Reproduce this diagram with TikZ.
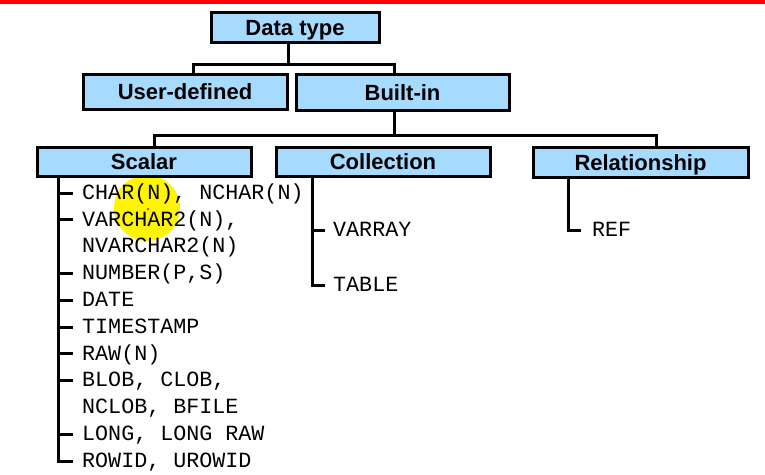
\documentclass[tikz,border=0pt]{standalone}
\usepackage{fontspec}
\setmainfont{Liberation Sans}
\setmonofont{Liberation Mono}
\definecolor{boxblue}{RGB}{166,218,255}
\definecolor{marker}{RGB}{255,245,0}

\begin{document}
\begin{tikzpicture}[x=1pt, y=-1pt,
  typebox/.style={draw=black, line width=3pt, fill=boxblue, inner sep=0pt,
    font=\fontsize{22}{24}\selectfont\bfseries, text height=16pt, text depth=0pt},
  link/.style={draw=black, line width=3pt},
  item/.style={anchor=west, inner xsep=9pt, inner ysep=0pt,
    font=\fontsize{21.7}{26}\selectfont\ttfamily, text height=12.4pt, text depth=0pt}]

\useasboundingbox (0,0) rectangle (765,474);
\fill[red] (0,0) rectangle (765,4);

% pointer highlight
\fill[marker] (147,208) circle (33);
\fill[red] (148,209) circle (1.2);

\node[typebox, minimum width=168pt, minimum height=30pt] (dtype) at (295,27) {Data type};

\node[typebox, minimum width=204pt, minimum height=35pt] (udef) at (185,91.5) {User-defined};
\node[typebox, minimum width=213pt, minimum height=36pt] (bltin) at (402.5,92) {Built-in};

\node[typebox, minimum width=214pt, minimum height=29pt] (scalar) at (144,161.5) {Scalar};
\node[typebox, minimum width=214pt, minimum height=29pt] (coll) at (383,161.5) {Collection};
\node[typebox, minimum width=215pt, minimum height=30pt] (rel) at (640.5,162) {Relationship};

\coordinate (j1) at (288,64);
\coordinate (j1l) at (193,64);
\coordinate (j1r) at (394,64);
\draw[link] (dtype.south -| j1) -- (j1);
\draw[link] (udef.north -| j1l) -- (j1l) -- (j1r) -- (bltin.north -| j1r);

\coordinate (j2l) at (154,135);
\coordinate (j2m) at (394,135);
\coordinate (j2r) at (656,135);
\draw[link] (bltin.south -| j2m) -- (j2m);
\draw[link] (scalar.north -| j2l) -- (j2l) -- (j2r) -- (rel.north -| j2r);

% scalar types
\foreach \t [count=\n] in {{CHAR(N), NCHAR(N)}, {VARCHAR2(N),}, {NVARCHAR2(N)},
    {NUMBER(P,S)}, {DATE}, {TIMESTAMP}, {RAW(N)}, {BLOB, CLOB,}, {NCLOB, BFILE},
    {LONG, LONG RAW}, {ROWID, UROWID}}
  \node[item] (s\n) at (73,{193+26.8*(\n-1)}) {\t};

\coordinate (sspine) at (58,175);
\draw[link] (scalar.south -| sspine) |- (s11.west);
\foreach \n in {1,2,4,5,6,7,8,10}
  \draw[link] (sspine |- s\n.west) -- (s\n.west);

% collection types
\node[item, inner xsep=8pt] (c1) at (325,230) {VARRAY};
\node[item, inner xsep=8pt] (c2) at (325,285) {TABLE};
\coordinate (cspine) at (312,176);
\draw[link] (coll.south -| cspine) |- (c2.west);
\draw[link] (cspine |- c1.west) -- (c1.west);

% relationship types
\node[item, inner xsep=11pt] (r1) at (581,230) {REF};
\coordinate (rspine) at (568,177);
\draw[link] (rel.south -| rspine) |- (r1.west);
\end{tikzpicture}
\end{document}
